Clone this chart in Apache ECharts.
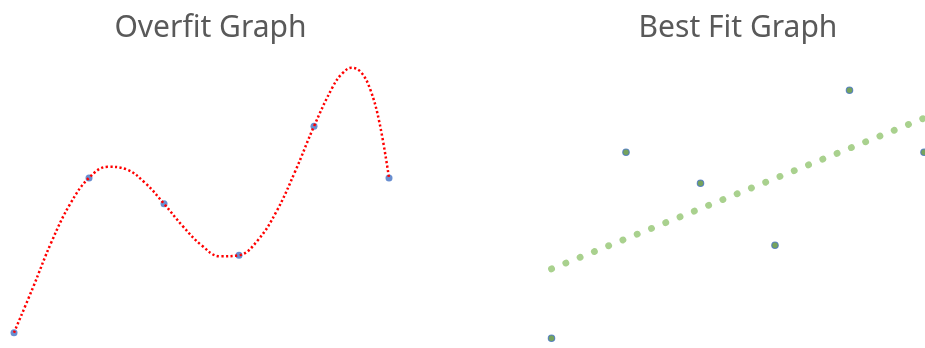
<!DOCTYPE html>
<html>
<head>
<meta charset="utf-8">
<script src="https://cdn.jsdelivr.net/npm/echarts@6/dist/echarts.min.js"></script>
<style>
  html, body { margin: 0; padding: 0; background: #fff; }
  #chart { width: 925px; height: 348px; }
</style>
</head>
<body>
<div id="chart"></div>
<script>
// observed points (same data on both panels)
const pointX = [0, 1, 2, 3, 4, 5];
const pointY = [0, 6, 5, 3, 8, 6];

// overfit curve
const curveX = [0, 0.25, 0.5, 0.75, 1, 1.25, 1.5, 1.75, 2, 2.25, 2.5, 2.75, 3, 3.25, 3.5, 3.75, 4, 4.25, 4.375, 4.5, 4.625, 4.75, 4.875, 5];
const curveY = [0, 1.73, 3.52, 5.0, 6, 6.43, 6.33, 5.8, 5, 4.13, 3.39, 2.96, 3, 3.58, 4.7, 6.26, 8, 9.53, 10.04, 10.27, 10.1, 9.43, 8.11, 6];

// best fit line end points
const fitX = [0, 5];
const fitY = [2.24, 7.1];

const titles = ['Overfit Graph', 'Best Fit Graph'];

const zip = (xs, ys) => xs.map((x, i) => [x, ys[i]]);

var myChart = echarts.init(document.getElementById('chart'), null, { renderer: 'canvas' });

const titleStyle = {
  fontFamily: 'Noto Sans',
  fontSize: 30,
  fontWeight: 'normal',
  color: '#595959'
};

let option = {
  animation: false,
  backgroundColor: '#fff',
  title: [
    { text: titles[0], left: 205.5, top: 8, textAlign: 'center', textStyle: titleStyle },
    { text: titles[1], left: 733, top: 8, textAlign: 'center', textStyle: titleStyle }
  ],
  grid: [
    { left: 14, top: 23.1, width: 375, height: 309.6 },
    { left: 551.5, top: 28.3, width: 372.5, height: 310 }
  ],
  xAxis: [
    { type: 'value', gridIndex: 0, min: 0, max: 5, show: false },
    { type: 'value', gridIndex: 1, min: 0, max: 5, show: false }
  ],
  yAxis: [
    { type: 'value', gridIndex: 0, min: 0, max: 12, show: false },
    { type: 'value', gridIndex: 1, min: 0, max: 10, show: false }
  ],
  series: [
    {
      type: 'line',
      xAxisIndex: 0, yAxisIndex: 0,
      data: zip(curveX, curveY),
      smooth: 0.4,
      showSymbol: false,
      lineStyle: { color: '#ff0000', width: 2.5, type: [2.2, 2.4] },
      z: 2
    },
    {
      type: 'scatter',
      xAxisIndex: 0, yAxisIndex: 0,
      data: zip(pointX, pointY),
      symbolSize: 7,
      itemStyle: { color: '#4472c4' },
      z: 1
    },
    {
      type: 'line',
      xAxisIndex: 1, yAxisIndex: 1,
      data: zip(fitX, fitY),
      showSymbol: false,
      lineStyle: { color: '#a9d18e', width: 6.8, type: [0.1, 15.3], cap: 'round' },
      z: 1
    },
    {
      type: 'scatter',
      xAxisIndex: 1, yAxisIndex: 1,
      data: zip(pointX, pointY),
      symbolSize: 6.5,
      itemStyle: { color: '#548c34', borderColor: '#4472c4', borderWidth: 1.1 },
      z: 2
    }
  ]
};
myChart.setOption(option);
</script>
</body>
</html>
